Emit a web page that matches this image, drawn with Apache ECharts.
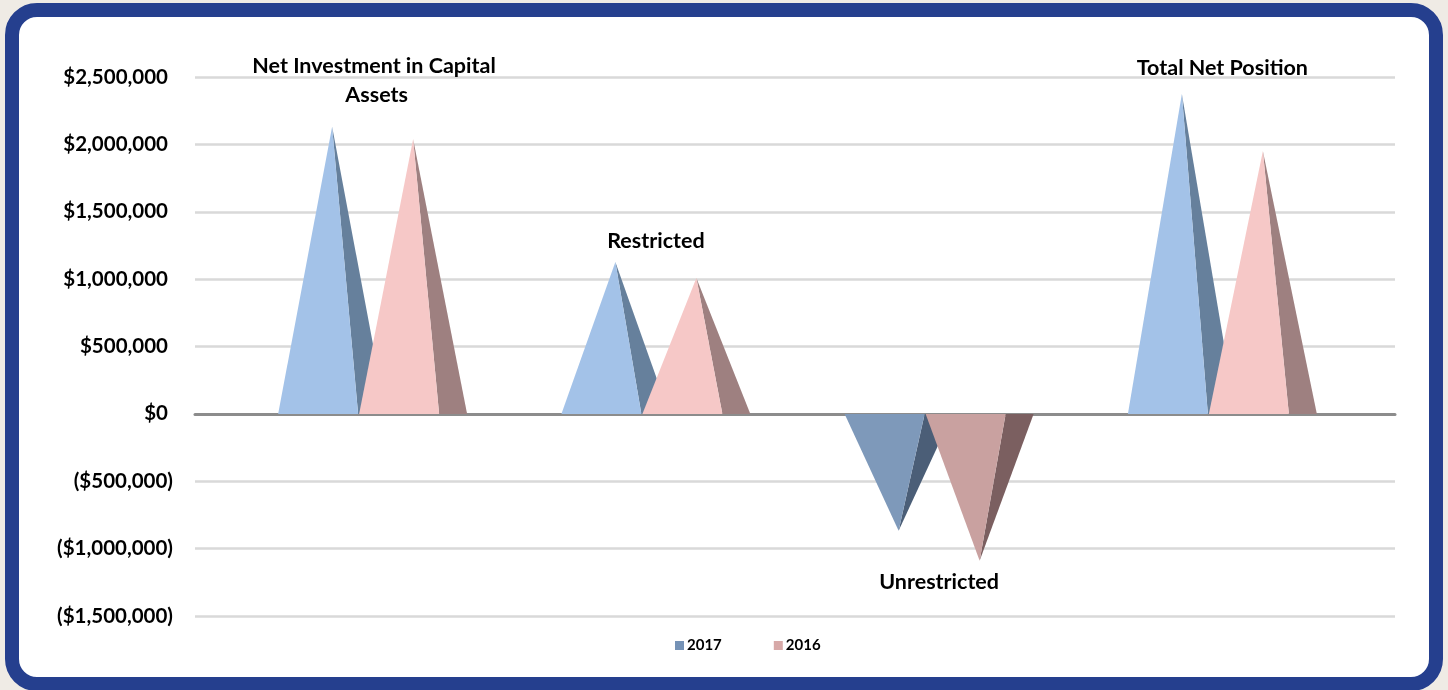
<!DOCTYPE html>
<html>
<head>
<meta charset="utf-8">
<script src="https://cdn.jsdelivr.net/npm/echarts@6/dist/echarts.min.js"></script>
<style>
  html, body { margin: 0; padding: 0; background: #efebe5; }
  #frame {
    position: absolute; left: 5px; top: 3px; width: 1410px; height: 660px;
    border: 14px solid #253f8e; border-radius: 32px; background: #ffffff;
  }
  #chart { position: absolute; left: 0; top: 0; width: 1448px; height: 690px; }
</style>
</head>
<body>
<div id="frame"></div>
<div id="chart"></div>
<script>
// ---- data ----
const categories = ['Net Investment in Capital Assets', 'Restricted', 'Unrestricted', 'Total Net Position'];
const seriesNames = ['2017', '2016'];
const values2017 = [2130000, 1128000, -868000, 2374000];
const values2016 = [2040000, 1009000, -1090000, 1951000];
const yMin = -1500000, yMax = 2500000, yInterval = 500000;

// ---- styles ----
const FONT = 'Lato, "Open Sans", sans-serif';
const palette = {
  '2017': { front: '#a3c2e8', side: '#66809c', frontNeg: '#7e99ba', sideNeg: '#4b5e77', legend: '#7592b6' },
  '2016': { front: '#f6c8c7', side: '#9e8080', frontNeg: '#c9a1a0', sideNeg: '#7b5f60', legend: '#d7a9a8' }
};
const labelOffsets = [-17, -6, 7, -11];

function fmt(v) {
  const s = '$' + Math.abs(v).toLocaleString('en-US');
  return v < 0 ? '{n|(' + s + ')}' : '{p|' + s + '}';
}

function pyramidRenderer(name, dir) {
  const col = palette[name];
  return function (params, api) {
    const idx = api.value(0), val = api.value(1);
    const base = api.coord([idx, 0]);
    const top = api.coord([idx, val]);
    const bw = api.size([1, 0])[0];
    const apexX = base[0] + dir * 0.143 * bw;
    const fl = apexX - 0.1906 * bw, fr = apexX + 0.0918 * bw, sr = apexX + 0.1906 * bw;
    const neg = val < 0;
    return {
      type: 'group',
      children: [
        { type: 'polygon', shape: { points: [[fr, base[1]], [sr, base[1]], [apexX, top[1]]] },
          style: { fill: neg ? col.sideNeg : col.side } },
        { type: 'polygon', shape: { points: [[fl, base[1]], [fr, base[1]], [apexX, top[1]]] },
          style: { fill: neg ? col.frontNeg : col.front } }
      ]
    };
  };
}

const labelData = categories.map((c, i) => {
  const a = values2017[i], b = values2016[i];
  const ext = (a < 0 || b < 0) ? Math.min(a, b) : Math.max(a, b);
  return [i, ext];
});

const axisText = { color: '#000', fontFamily: FONT, fontWeight: 'bold', fontSize: 20.5 };

const chart = echarts.init(document.getElementById('chart'));
chart.setOption({
  animation: false,
  backgroundColor: 'transparent',
  grid: [
    { left: 195, right: 53, top: 77, bottom: 74 },
    { left: 231, right: 84, top: 77, bottom: 74 }
  ],
  xAxis: [
    { gridIndex: 0, type: 'category', data: [''], axisLine: { onZero: true, lineStyle: { color: '#8c8c8c', width: 3 } },
      axisTick: { show: false }, axisLabel: { show: false } },
    { gridIndex: 1, type: 'category', data: categories, show: false }
  ],
  yAxis: [
    { gridIndex: 0, type: 'value', min: yMin, max: yMax, interval: yInterval,
      axisLine: { show: false }, axisTick: { show: false },
      splitLine: { lineStyle: { color: '#d9d9d9', width: 2.5 } },
      axisLabel: Object.assign({ formatter: fmt, margin: 22,
        rich: { p: Object.assign({ padding: [0, 5, 0, 0] }, axisText), n: Object.assign({}, axisText) } }, axisText) },
    { gridIndex: 1, type: 'value', min: yMin, max: yMax, interval: yInterval, show: false, splitLine: { show: false } }
  ],
  legend: {
    left: 670, top: 633, itemWidth: 9, itemHeight: 9, itemGap: 52, icon: 'rect',
    textStyle: { color: '#000', fontFamily: FONT, fontWeight: 'bold', fontSize: 15, padding: [0, 0, 0, -2] },
    data: seriesNames.map(n => ({ name: n, itemStyle: { color: palette[n].legend } }))
  },
  series: [
    { name: '2017', type: 'custom', xAxisIndex: 1, yAxisIndex: 1, renderItem: pyramidRenderer('2017', -1),
      itemStyle: { color: palette['2017'].legend }, data: values2017.map((v, i) => [i, v]), z: 2 },
    { name: '2016', type: 'custom', xAxisIndex: 1, yAxisIndex: 1, renderItem: pyramidRenderer('2016', 1),
      itemStyle: { color: palette['2016'].legend }, data: values2016.map((v, i) => [i, v]), z: 3 },
    { name: 'labels', type: 'custom', xAxisIndex: 1, yAxisIndex: 1, z: 5, silent: true,
      data: labelData,
      renderItem: function (params, api) {
        const idx = api.value(0), val = api.value(1);
        const p = api.coord([idx, val]);
        const neg = val < 0;
        return {
          type: 'text',
          x: p[0] + (idx === 0 ? 4 : 0), y: p[1] + labelOffsets[idx],
          style: {
            text: categories[idx], width: 270, overflow: 'break',
            align: 'center', verticalAlign: neg ? 'top' : 'bottom',
            fill: '#000', font: 'bold 21.5px ' + FONT, lineHeight: 29
          }
        };
      } }
  ]
});
</script>
</body>
</html>
